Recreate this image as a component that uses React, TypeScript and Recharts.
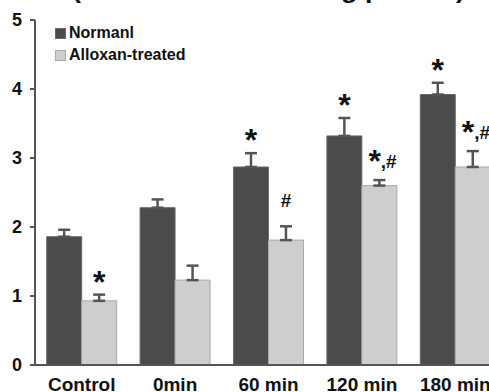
import React from "react"
import { BarChart, Bar, XAxis, YAxis, ErrorBar, LabelList } from "recharts"

const categories = ["Control", "0min", "60 min", "120 min", "180 min"]
const seriesNames = ["Normanl", "Alloxan-treated"]
const normalValues = [1.86, 2.28, 2.87, 3.32, 3.92]
const normalErrors = [0.1, 0.12, 0.2, 0.26, 0.17]
const alloxanValues = [0.93, 1.23, 1.81, 2.6, 2.87]
const alloxanErrors = [0.09, 0.21, 0.2, 0.08, 0.23]
const normalMarks = ["", "", "*", "*", "*"]
const alloxanMarks = ["*", "", "#", "*,#", "*,#"]
const yTicks = [0, 1, 2, 3, 4, 5]
const titleText = "(nmol NO released/mg protein)"

const FONT = '"Liberation Sans", Arial, sans-serif'
const DARK = "#4b4b4b"
const LIGHT = "#cecece"
const AXIS = "#555555"

const data = categories.map((name, i) => ({
  name,
  normal: normalValues[i],
  normalErr: [0, normalErrors[i]],
  alloxan: alloxanValues[i],
  alloxanErr: [0, alloxanErrors[i]],
}))

// significance marks drawn above the error bar caps
const makeMarks = (marks: string[], errors: number[]) => (props: any) => {
  const { x, y, width, height, value, index } = props
  const mark = marks[index]
  if (!mark) return null
  const cx = Number(x) + Number(width) / 2
  const capY = Number(y) - (Number(height) * errors[index]) / Number(value)
  const common = { fontFamily: FONT, fontWeight: "bold", fill: "#111" }
  if (mark === "*") {
    return (
      <text key={`m-${index}`} x={cx} y={capY - 2} textAnchor="middle" fontSize={32} {...common}>
        *
      </text>
    )
  }
  if (mark === "#") {
    return (
      <text key={`m-${index}`} x={cx} y={capY - 19} textAnchor="middle" fontSize={19} {...common}>
        #
      </text>
    )
  }
  return (
    <text key={`m-${index}`} x={cx - 11} y={capY - 12} {...common}>
      <tspan fontSize={32} dy={4}>*</tspan>
      <tspan fontSize={19} dy={-4}>{mark.slice(1)}</tspan>
    </text>
  )
}

export default function App() {
  return (
    <div
      style={{
        position: "absolute",
        left: 0,
        top: 0,
        width: 489,
        height: 392,
        overflow: "hidden",
        background: "#fff",
        fontFamily: FONT,
      }}
    >
      {/* axis title, cut off by the top edge like in the original */}
      <svg width={489} height={12} style={{ position: "absolute", left: 0, top: 0 }}>
        <text
          x={72}
          y={-2}
          fontSize={24}
          fontWeight="bold"
          fontFamily={FONT}
          fill="#111"
          textLength={393}
          lengthAdjust="spacingAndGlyphs"
        >
          {titleText}
        </text>
      </svg>

      <BarChart
        width={520}
        height={392}
        data={data}
        margin={{ top: 20, right: 18, bottom: 0, left: 0 }}
        barCategoryGap="12.5%"
        barGap={0}
      >
        <XAxis
          dataKey="name"
          height={27}
          tickLine={false}
          tickSize={0}
          tickMargin={13}
          interval={0}
          axisLine={{ stroke: AXIS, strokeWidth: 2 }}
          tick={{ fontSize: 19, fontWeight: "bold", fill: "#111", fontFamily: FONT }}
        />
        <YAxis
          width={35}
          domain={[0, 5]}
          ticks={yTicks}
          interval={0}
          tickSize={5}
          tickMargin={8}
          axisLine={{ stroke: AXIS, strokeWidth: 2 }}
          tickLine={{ stroke: AXIS, strokeWidth: 2 }}
          tick={{ fontSize: 18, fontWeight: "bold", fill: "#111", fontFamily: FONT }}
        />
        <Bar dataKey="normal" name={seriesNames[0]} fill={DARK} stroke="#6a6a6a" strokeWidth={1} isAnimationActive={false}>
          <ErrorBar dataKey="normalErr" width={6} stroke={AXIS} strokeWidth={2.5} direction="y" />
          <LabelList dataKey="normal" content={makeMarks(normalMarks, normalErrors)} />
        </Bar>
        <Bar dataKey="alloxan" name={seriesNames[1]} fill={LIGHT} stroke="#a9a9a9" strokeWidth={1} isAnimationActive={false}>
          <ErrorBar dataKey="alloxanErr" width={6} stroke={AXIS} strokeWidth={2.5} direction="y" />
          <LabelList dataKey="alloxan" content={makeMarks(alloxanMarks, alloxanErrors)} />
        </Bar>
      </BarChart>

      {seriesNames.map((label, i) => (
        <React.Fragment key={label}>
          <div
            style={{
              position: "absolute",
              left: 55,
              top: 28 + i * 22,
              width: 9,
              height: 9,
              background: i === 0 ? DARK : LIGHT,
              border: `1px solid ${i === 0 ? "#6a6a6a" : "#a9a9a9"}`,
            }}
          />
          <div
            style={{
              position: "absolute",
              left: 69,
              top: 24.5 + i * 22,
              fontSize: 16,
              lineHeight: "16px",
              fontWeight: "bold",
              color: "#111",
              whiteSpace: "nowrap",
            }}
          >
            {label}
          </div>
        </React.Fragment>
      ))}
    </div>
  )
}
